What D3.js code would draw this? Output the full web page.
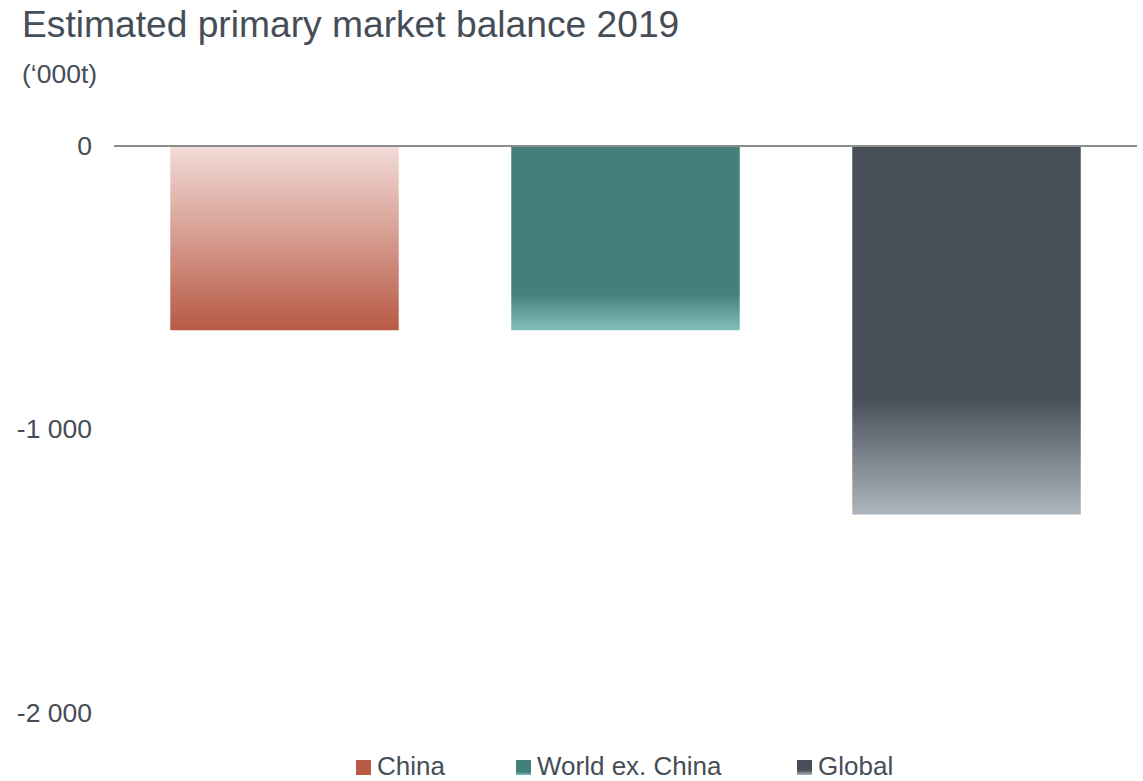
<!DOCTYPE html>
<html>
<head>
<meta charset="utf-8">
<script src="https://cdn.jsdelivr.net/npm/d3@7"></script>
<style>
  html, body { margin: 0; padding: 0; background: #fff; }
  svg { display: block; font-family: "Liberation Sans", Arial, sans-serif; }
</style>
</head>
<body>
<svg id="chart" width="1143" height="781"></svg>
<script>
const categories = ["China", "World ex. China", "Global"];
const values = [-650, -650, -1300];
const tickValues = [0, -1000, -2000];
const tickLabels = ["0", "-1 000", "-2 000"];
const gradients = [
  [{o: 0, c: "#f2dcd8"}, {o: 1, c: "#b85a45"}],
  [{o: 0, c: "#44807a"}, {o: 0.8, c: "#44807a"}, {o: 1, c: "#82c0b9"}],
  [{o: 0, c: "#474e57"}, {o: 0.68, c: "#474e57"}, {o: 1, c: "#adb5bd"}]
];
const legendColors = ["#b85a45", "#44807a", "#474e57"];

const svg = d3.select("#chart");
const textColor = "#454d56";

const y = d3.scaleLinear().domain([0, -2000]).range([146, 713]);
const x = d3.scaleBand().domain(categories).range([114, 1137]).paddingInner(0.33).paddingOuter(0.165);

const defs = svg.append("defs");
gradients.forEach((g, i) => {
  const lg = defs.append("linearGradient").attr("id", "grad" + i)
    .attr("x1", 0).attr("y1", 0).attr("x2", 0).attr("y2", 1);
  g.forEach(s => lg.append("stop").attr("offset", s.o).attr("stop-color", s.c));
});

// Title
svg.append("text").attr("x", 22).attr("y", 37)
  .attr("font-size", 37.2).attr("fill", textColor)
  .text("Estimated primary market balance 2019");
svg.append("text").attr("x", 22).attr("y", 83)
  .attr("font-size", 26.5).attr("fill", textColor)
  .text("(‘000t)");

// Y axis
const yAxis = d3.axisLeft(y).tickValues(tickValues)
  .tickFormat((d, i) => tickLabels[i]).tickSize(0).tickPadding(0);
const ga = svg.append("g").attr("transform", "translate(92,0)").call(yAxis);
ga.select(".domain").remove();
ga.selectAll("text").attr("font-size", 26.5).attr("fill", textColor)
  .attr("font-family", "Liberation Sans, Arial, sans-serif");

// Bars
svg.selectAll("rect.bar").data(categories).enter().append("rect")
  .attr("class", "bar")
  .attr("x", d => x(d))
  .attr("width", x.bandwidth())
  .attr("y", y(0))
  .attr("height", (d, i) => y(values[i]) - y(0))
  .attr("fill", (d, i) => `url(#grad${i})`);

// Zero line
svg.append("line").attr("x1", 114).attr("x2", 1137)
  .attr("y1", y(0)).attr("y2", y(0))
  .attr("stroke", "#8c8c8c").attr("stroke-width", 2);

// Legend
const legendX = [356, 516, 797];
const lg = svg.append("g");
categories.forEach((c, i) => {
  lg.append("rect").attr("x", legendX[i]).attr("y", 760)
    .attr("width", 15).attr("height", 15)
    .attr("fill", i === 0 ? legendColors[0] : `url(#grad${i})`);
  lg.append("text").attr("x", legendX[i] + 21).attr("y", 775)
    .attr("font-size", 26).attr("fill", textColor).text(c);
});
</script>
</body>
</html>
